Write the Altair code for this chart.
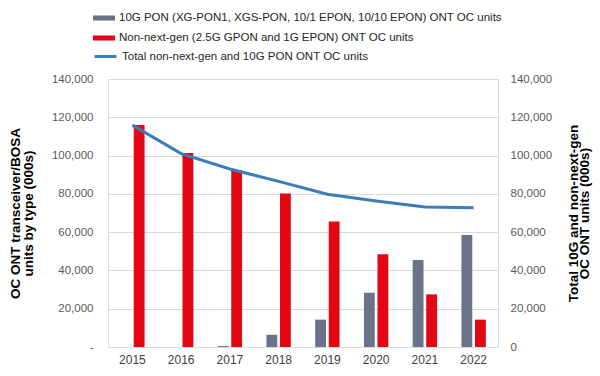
import altair as alt
import pandas as pd

years = ["2015", "2016", "2017", "2018", "2019", "2020", "2021", "2022"]
pon10g = [0, 0, 500, 6400, 14300, 28400, 45400, 58500]
nonnext = [116000, 101400, 92500, 80200, 65600, 48400, 27500, 14300]
total = [115900, 101000, 93000, 86500, 79800, 76300, 73100, 72800]

s1 = "10G PON (XG-PON1, XGS-PON, 10/1 EPON, 10/10 EPON) ONT OC units"
s2 = "Non-next-gen (2.5G GPON and 1G EPON) ONT OC units"
s3 = "Total non-next-gen and 10G PON ONT OC units"

bars_df = pd.DataFrame({
    "year": years * 2,
    "series": [s1] * len(years) + [s2] * len(years),
    "value": pon10g + nonnext,
})
line_df = pd.DataFrame({"year": years, "series": [s3] * len(years), "value": total})

FONT = "Liberation Sans"
ticks = list(range(0, 140001, 20000))

x_enc = alt.X(
    "year:N",
    scale=alt.Scale(paddingInner=0.5, paddingOuter=0.25),
    axis=alt.Axis(title=None, labelAngle=0, ticks=False, domain=False, grid=False,
                  labelFontSize=12, labelPadding=7, labelColor="#404040", labelFont=FONT),
)

bars = alt.Chart(bars_df).mark_bar().encode(
    x=x_enc,
    xOffset=alt.XOffset("series:N", sort=[s1, s2],
                        scale=alt.Scale(paddingInner=0.2, paddingOuter=0)),
    y=alt.Y(
        "value:Q",
        scale=alt.Scale(domain=[0, 140000], nice=False),
        axis=alt.Axis(
            title=["OC ONT transceiver/BOSA", "units by type (000s)"],
            values=ticks,
            labelExpr="datum.value == 0 ? '-' : format(datum.value, ',')",
            ticks=False, domain=False, grid=True, gridColor="#D9D9D9",
            labelFontSize=11.5, labelColor="#595959", labelFont=FONT, labelPadding=15,
            titleFontSize=13.5, titleFontWeight="bold", titleColor="#000000",
            titleFont=FONT, titlePadding=16, titleLineHeight=13,
        ),
    ),
    color=alt.Color(
        "series:N",
        scale=alt.Scale(domain=[s1, s2], range=["#6A7388", "#E30613"]),
        legend=alt.Legend(
            title=None, orient="none", legendX=-15, legendY=-72,
            symbolType="M-1,-0.23H1V0.23H-1Z", symbolSize=484, symbolStrokeWidth=0,
            labelFontSize=11.5, labelFont=FONT, labelColor="#262626", labelLimit=0,
            rowPadding=3, padding=0, labelOffset=4,
        ),
    ),
)

line = alt.Chart(line_df).mark_line(strokeWidth=3).encode(
    x=x_enc,
    y=alt.Y(
        "value:Q",
        scale=alt.Scale(domain=[0, 140000], nice=False),
        axis=alt.Axis(
            orient="right",
            title=["Total 10G and non-next-gen", "OC ONT units (000s)"],
            values=ticks,
            labelExpr="format(datum.value, ',')",
            ticks=False, domain=False, grid=False,
            labelFontSize=11.5, labelColor="#595959", labelFont=FONT, labelPadding=12,
            titleFontSize=13.5, titleFontWeight="bold", titleColor="#000000",
            titleFont=FONT, titlePadding=18, titleAngle=270, titleLineHeight=11,
        ),
    ),
    stroke=alt.Stroke(
        "series:N",
        scale=alt.Scale(domain=[s3], range=["#3A7DB8"]),
        legend=alt.Legend(
            title=None, orient="none", legendX=-15, legendY=-35,
            symbolType="stroke", symbolSize=484, symbolStrokeWidth=3,
            labelFontSize=11.5, labelFont=FONT, labelColor="#262626", labelLimit=0,
            padding=0, labelOffset=4,
        ),
    ),
)

chart = alt.layer(bars, line).resolve_scale(y="independent").properties(
    width=390,
    height=268,
    padding={"left": 108, "top": 79, "right": 102, "bottom": 29},
    autosize=alt.AutoSizeParams(type="none"),
).configure_view(stroke=None).configure(font=FONT)

chart.save("out.html", embed_options={"renderer": "svg", "actions": False})
